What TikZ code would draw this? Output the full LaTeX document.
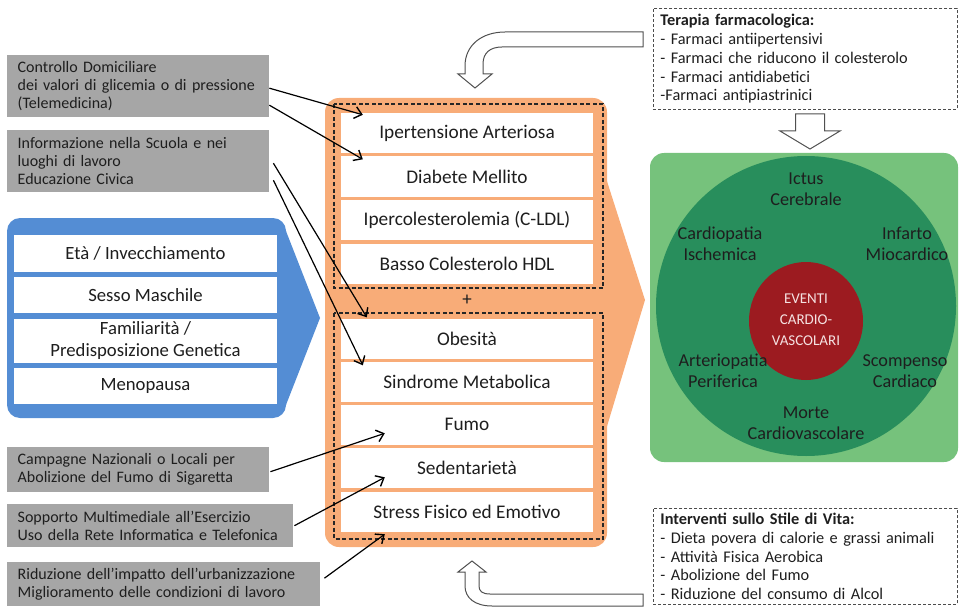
\documentclass[tikz,border=0pt]{standalone}
\usepackage{fontspec}
\setmainfont{Carlito}
\usetikzlibrary{arrows.meta,calc}
\definecolor{bluec}{RGB}{84,141,212}
\definecolor{orangec}{RGB}{248,172,120}
\definecolor{grayc}{RGB}{166,166,166}
\definecolor{lgreen}{RGB}{118,194,124}
\definecolor{dgreen}{RGB}{40,142,92}
\definecolor{redc}{RGB}{156,27,32}
\definecolor{txt}{RGB}{30,30,30}
\definecolor{pinktxt}{RGB}{245,225,225}
\definecolor{outl}{RGB}{80,80,80}
\begin{document}
\begin{tikzpicture}[x=1pt,y=-1pt,
  gbox/.style={fill=grayc, anchor=north west, align=left, inner xsep=10.5pt, inner ysep=0pt, text=txt, font=\fontsize{16}{18}\selectfont},
  rowbox/.style={fill=white, minimum width=252pt, minimum height=40pt, inner sep=0pt, text=txt, align=center, font=\fontsize{19.3}{22}\selectfont},
  browbox/.style={fill=white, minimum width=263pt, inner sep=0pt, text=txt, align=center, font=\fontsize{18.7}{22}\selectfont},
  dashrect/.style={draw=black!85, dash pattern=on 4pt off 2.5pt, line width=1.3pt},
  dbox/.style={draw=black!70, dash pattern=on 3pt off 2pt, line width=0.9pt, anchor=north west, align=left, inner xsep=7pt, inner ysep=0pt, text=txt, font=\fontsize{16.3}{18.8}\selectfont},
  hollow/.style={draw=outl, fill=white, line width=1pt, line join=miter},
  gtext/.style={align=center, text=txt, font=\fontsize{18.2}{21}\selectfont},
  conn/.style={draw=black, line width=1.2pt, -{Straight Barb[length=7pt,width=12pt,line width=1.4pt]}}
]
\useasboundingbox (0,0) rectangle (964,607);

% ---------- blue block ----------
\fill[bluec,rounded corners=13pt] (7,218) rectangle (286,418);
\fill[bluec] (284,226) -- (320,318) -- (284,410) -- cycle;
\node[browbox, minimum height=37pt] (eta) at (145.5,253.5) {Età / Invecchiamento};
\node[browbox, minimum height=36pt] (sesso) at (145.5,295) {Sesso Maschile};
\node[browbox, minimum height=44pt] (fam) at (145.5,341) {Familiarità /\\Predisposizione Genetica};
\node[browbox, minimum height=36pt] (meno) at (145.5,386) {Menopausa};

% ---------- orange block ----------
\fill[orangec,rounded corners=14pt] (325,98) rectangle (607,547);
\fill[orangec] (605,175) -- (645,300) -- (605,433) -- cycle;
\draw[dashrect] (334,104) rectangle (603,288);
\draw[dashrect] (334,313) rectangle (603,539);
\node[rowbox] (r1) at (467,133) {Ipertensione Arteriosa};
\node[rowbox] (r2) at (467,176.5) {Diabete Mellito};
\node[rowbox] (r3) at (467,220) {Ipercolesterolemia (C-LDL)};
\node[rowbox] (r4) at (467,263.5) {Basso Colesterolo HDL};
\node[text=txt, font=\fontsize{19}{20}\selectfont, inner sep=0pt] (plus) at (467,300) {+};
\node[rowbox] (r5) at (467,338.5) {Obesità};
\node[rowbox] (r6) at (467,381.5) {Sindrome Metabolica};
\node[rowbox] (r7) at (467,424.5) {Fumo};
\node[rowbox] (r8) at (467,467.5) {Sedentarietà};
\node[rowbox] (r9) at (467,512) {Stress Fisico ed Emotivo};

% ---------- hollow arrows ----------
\draw[hollow] (643,32) -- (505,32) .. controls (482,32) and (465,45) .. (465,66) -- (465,74) -- (458,74) -- (475,88) -- (492,74) -- (483,74) -- (483,64) .. controls (483,53) and (490,47) .. (502,47) -- (643,47) -- cycle;
\draw[hollow] (472,561) -- (486,572) -- (479,572) -- (479,586) .. controls (479,591) and (482,594) .. (490,594) -- (643,594) -- (643,606) -- (492,606) .. controls (475,606) and (465,598) .. (465,586) -- (465,572) -- (458,572) -- cycle;
\draw[hollow] (795.5,114) -- (824.5,114) -- (824.5,131) -- (840,131) -- (810,149) -- (780,131) -- (795.5,131) -- cycle;

% ---------- gray boxes ----------
\node[gbox, minimum height=62pt, text width=241pt] (b1) at (7,55) {Controllo Domiciliare\\dei valori di glicemia o di pressione\\(Telemedicina)};
\node[gbox, minimum height=62pt, text width=241pt] (b2) at (7,130) {Informazione nella Scuola e nei\\luoghi di lavoro\\Educazione Civica};
\node[gbox, minimum height=45pt, text width=241pt] (b3) at (7,447) {Campagne Nazionali o Locali per\\Abolizione del Fumo di Sigaretta};
\node[gbox, minimum height=43pt, text width=265pt] (b4) at (7,504) {Sopporto Multimediale all’Esercizio\\Uso della Rete Informatica e Telefonica};
\node[gbox, minimum height=44pt, text width=292pt] (b5) at (7,562) {Riduzione dell’impatto dell’urbanizzazione\\Miglioramento delle condizioni di lavoro};

% ---------- right side ----------
\node[dbox, minimum width=304pt, minimum height=101pt, text width=290pt] (ter) at (653,8) {\textbf{Terapia farmacologica:}\\- Farmaci antiipertensivi\\- Farmaci che riducono il colesterolo\\- Farmaci antidiabetici\\-Farmaci antipiastrinici};
\node[dbox, minimum width=304pt, minimum height=96pt, text width=290pt] (stile) at (653,508) {\textbf{Interventi sullo Stile di Vita:}\\- Dieta povera di calorie e grassi animali\\- Attività Fisica Aerobica\\- Abolizione del Fumo\\- Riduzione del consumo di Alcol};

\fill[lgreen,rounded corners=14pt] (650,153) rectangle (958,462);
\fill[dgreen] (806,306) circle[radius=150pt];
\fill[redc] (806,321) ellipse[x radius=57pt, y radius=59pt];
\node[align=center, text=pinktxt, font=\fontsize{15}{21}\selectfont] (ev) at (806,320) {EVENTI\\CARDIO-\\VASCOLARI};
\node[gtext] (ictus) at (806,189) {Ictus\\Cerebrale};
\node[gtext] (cis) at (720,244) {Cardiopatia\\Ischemica};
\node[gtext] (inf) at (907,244) {Infarto\\Miocardico};
\node[gtext] (art) at (723,371) {Arteriopatia\\Periferica};
\node[gtext] (sco) at (905,371) {Scompenso\\Cardiaco};
\node[gtext] (mor) at (806,423) {Morte\\Cardiovascolare};

% ---------- connectors ----------
\draw[conn] ([shift={(0,2)}]b1.east) -- ([shift={(22,2)}]r1.north west);
\draw[conn] ([shift={(0,19)}]b1.east) -- ([shift={(22,3)}]r2.north west);
\draw[conn] ([shift={(4,2)}]b2.east) -- ([shift={(26,-1)}]r5.north west);
\draw[conn] ([shift={(4,19)}]b2.east) -- ([shift={(22,4)}]r6.north west);
\draw[conn] ([shift={(1,2)}]b3.east) -- ([shift={(44,29)}]r7.north west);
\draw[conn] ([shift={(1,0)}]b4.east) -- ([shift={(44,30)}]r8.north west);
\draw[conn] ([shift={(4,-6)}]b5.east) -- ([shift={(44,2)}]r9.south west);
\end{tikzpicture}
\end{document}
